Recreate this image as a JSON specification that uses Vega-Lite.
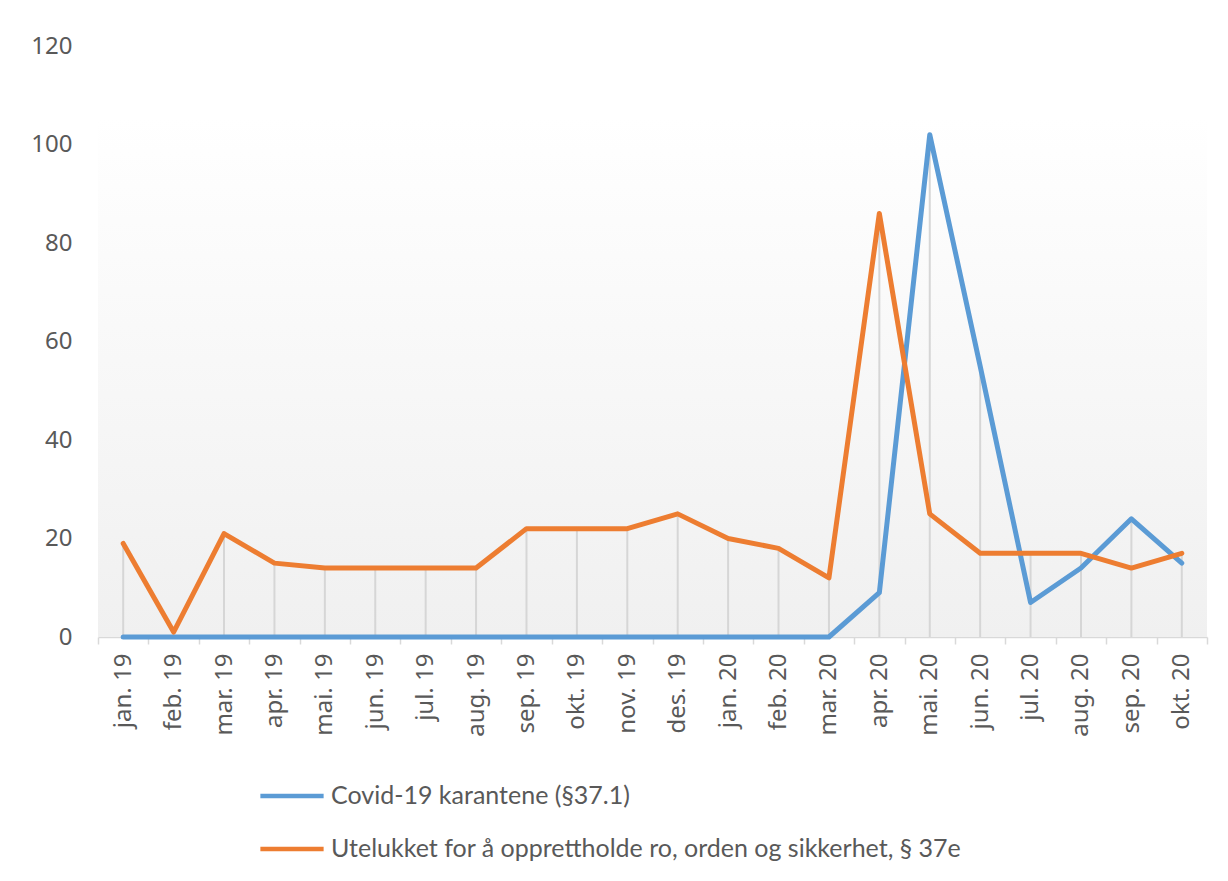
{
  "$schema": "https://vega.github.io/schema/vega-lite/v6.json",
  "autosize": {"type": "none"},
  "width": 1109,
  "height": 591,
  "padding": {"left": 98, "top": 46, "right": 21, "bottom": 244},
  "background": "white",
  "config": {
    "view": {"stroke": null},
    "font": "Noto Sans",
    "axis": {"labelColor": "#595959", "title": null}
  },
  "datasets": {
    "monthly": [
      {"month": "jan. 19", "series": "Covid-19 karantene (§37.1)", "value": 0},
      {"month": "feb. 19", "series": "Covid-19 karantene (§37.1)", "value": 0},
      {"month": "mar. 19", "series": "Covid-19 karantene (§37.1)", "value": 0},
      {"month": "apr. 19", "series": "Covid-19 karantene (§37.1)", "value": 0},
      {"month": "mai. 19", "series": "Covid-19 karantene (§37.1)", "value": 0},
      {"month": "jun. 19", "series": "Covid-19 karantene (§37.1)", "value": 0},
      {"month": "jul. 19", "series": "Covid-19 karantene (§37.1)", "value": 0},
      {"month": "aug. 19", "series": "Covid-19 karantene (§37.1)", "value": 0},
      {"month": "sep. 19", "series": "Covid-19 karantene (§37.1)", "value": 0},
      {"month": "okt. 19", "series": "Covid-19 karantene (§37.1)", "value": 0},
      {"month": "nov. 19", "series": "Covid-19 karantene (§37.1)", "value": 0},
      {"month": "des. 19", "series": "Covid-19 karantene (§37.1)", "value": 0},
      {"month": "jan. 20", "series": "Covid-19 karantene (§37.1)", "value": 0},
      {"month": "feb. 20", "series": "Covid-19 karantene (§37.1)", "value": 0},
      {"month": "mar. 20", "series": "Covid-19 karantene (§37.1)", "value": 0},
      {"month": "apr. 20", "series": "Covid-19 karantene (§37.1)", "value": 9},
      {"month": "mai. 20", "series": "Covid-19 karantene (§37.1)", "value": 102},
      {"month": "jun. 20", "series": "Covid-19 karantene (§37.1)", "value": 55},
      {"month": "jul. 20", "series": "Covid-19 karantene (§37.1)", "value": 7},
      {"month": "aug. 20", "series": "Covid-19 karantene (§37.1)", "value": 14},
      {"month": "sep. 20", "series": "Covid-19 karantene (§37.1)", "value": 24},
      {"month": "okt. 20", "series": "Covid-19 karantene (§37.1)", "value": 15},
      {"month": "jan. 19", "series": "Utelukket for å opprettholde ro, orden og sikkerhet, § 37e", "value": 19},
      {"month": "feb. 19", "series": "Utelukket for å opprettholde ro, orden og sikkerhet, § 37e", "value": 1},
      {"month": "mar. 19", "series": "Utelukket for å opprettholde ro, orden og sikkerhet, § 37e", "value": 21},
      {"month": "apr. 19", "series": "Utelukket for å opprettholde ro, orden og sikkerhet, § 37e", "value": 15},
      {"month": "mai. 19", "series": "Utelukket for å opprettholde ro, orden og sikkerhet, § 37e", "value": 14},
      {"month": "jun. 19", "series": "Utelukket for å opprettholde ro, orden og sikkerhet, § 37e", "value": 14},
      {"month": "jul. 19", "series": "Utelukket for å opprettholde ro, orden og sikkerhet, § 37e", "value": 14},
      {"month": "aug. 19", "series": "Utelukket for å opprettholde ro, orden og sikkerhet, § 37e", "value": 14},
      {"month": "sep. 19", "series": "Utelukket for å opprettholde ro, orden og sikkerhet, § 37e", "value": 22},
      {"month": "okt. 19", "series": "Utelukket for å opprettholde ro, orden og sikkerhet, § 37e", "value": 22},
      {"month": "nov. 19", "series": "Utelukket for å opprettholde ro, orden og sikkerhet, § 37e", "value": 22},
      {"month": "des. 19", "series": "Utelukket for å opprettholde ro, orden og sikkerhet, § 37e", "value": 25},
      {"month": "jan. 20", "series": "Utelukket for å opprettholde ro, orden og sikkerhet, § 37e", "value": 20},
      {"month": "feb. 20", "series": "Utelukket for å opprettholde ro, orden og sikkerhet, § 37e", "value": 18},
      {"month": "mar. 20", "series": "Utelukket for å opprettholde ro, orden og sikkerhet, § 37e", "value": 12},
      {"month": "apr. 20", "series": "Utelukket for å opprettholde ro, orden og sikkerhet, § 37e", "value": 86},
      {"month": "mai. 20", "series": "Utelukket for å opprettholde ro, orden og sikkerhet, § 37e", "value": 25},
      {"month": "jun. 20", "series": "Utelukket for å opprettholde ro, orden og sikkerhet, § 37e", "value": 17},
      {"month": "jul. 20", "series": "Utelukket for å opprettholde ro, orden og sikkerhet, § 37e", "value": 17},
      {"month": "aug. 20", "series": "Utelukket for å opprettholde ro, orden og sikkerhet, § 37e", "value": 17},
      {"month": "sep. 20", "series": "Utelukket for å opprettholde ro, orden og sikkerhet, § 37e", "value": 14},
      {"month": "okt. 20", "series": "Utelukket for å opprettholde ro, orden og sikkerhet, § 37e", "value": 17}
    ]
  },
  "layer": [
    {
      "data": {"values": [{"band": "plot"}]},
      "mark": {
        "type": "rect",
        "color": {
          "gradient": "linear",
          "x1": 0, "y1": 0, "x2": 0, "y2": 1,
          "stops": [
            {"offset": 0, "color": "#ffffff"},
            {"offset": 0.12, "color": "#ffffff"},
            {"offset": 1, "color": "#f0f0f0"}
          ]
        }
      },
      "encoding": {
        "y": {"datum": 120, "type": "quantitative", "scale": {"domain": [0, 120]}},
        "y2": {"datum": 0}
      }
    },
    {
      "data": {"name": "monthly"},
      "transform": [
        {"aggregate": [{"op": "max", "field": "value", "as": "maxv"}], "groupby": ["month"]}
      ],
      "mark": {"type": "rule", "color": "#d6d6d6", "strokeWidth": 2},
      "encoding": {
        "x": {
          "field": "month", "type": "nominal",
          "sort": ["jan. 19","feb. 19","mar. 19","apr. 19","mai. 19","jun. 19","jul. 19","aug. 19","sep. 19","okt. 19","nov. 19","des. 19","jan. 20","feb. 20","mar. 20","apr. 20","mai. 20","jun. 20","jul. 20","aug. 20","sep. 20","okt. 20"],
          "scale": {"type": "band", "paddingInner": 0, "paddingOuter": 0}
        },
        "y": {"field": "maxv", "type": "quantitative"},
        "y2": {"datum": 0}
      }
    },
    {
      "data": {"name": "monthly"},
      "mark": {"type": "line", "strokeWidth": 5, "strokeJoin": "round", "strokeCap": "round"},
      "encoding": {
        "x": {
          "field": "month", "type": "nominal",
          "sort": ["jan. 19","feb. 19","mar. 19","apr. 19","mai. 19","jun. 19","jul. 19","aug. 19","sep. 19","okt. 19","nov. 19","des. 19","jan. 20","feb. 20","mar. 20","apr. 20","mai. 20","jun. 20","jul. 20","aug. 20","sep. 20","okt. 20"],
          "scale": {"type": "band", "paddingInner": 0, "paddingOuter": 0},
          "axis": {
            "labelAngle": -90,
            "labelFontSize": 24,
            "labelPadding": 9,
            "domainColor": "#d9d9d9",
            "domainWidth": 1.5,
            "tickColor": "#d9d9d9",
            "tickWidth": 1.5,
            "tickSize": 7,
            "tickBand": "extent",
            "grid": false
          }
        },
        "y": {
          "field": "value", "type": "quantitative",
          "scale": {"domain": [0, 120]},
          "axis": {
            "values": [0, 20, 40, 60, 80, 100, 120],
            "domain": false,
            "ticks": false,
            "grid": false,
            "labelFontSize": 24,
            "labelPadding": 26
          }
        },
        "color": {
          "field": "series", "type": "nominal",
          "scale": {
            "domain": ["Covid-19 karantene (§37.1)", "Utelukket for å opprettholde ro, orden og sikkerhet, § 37e"],
            "range": ["#5b9bd5", "#ed7d31"]
          },
          "legend": {
            "title": null,
            "orient": "none",
            "legendX": 160,
            "legendY": 716,
            "direction": "vertical",
            "padding": 0,
            "symbolType": "stroke",
            "symbolSize": 4000,
            "symbolStrokeWidth": 4.5,
            "labelFont": "Lato",
            "labelFontSize": 25,
            "labelColor": "#595959",
            "labelLimit": 900,
            "labelOffset": 5,
            "rowPadding": 6
          }
        }
      }
    }
  ]
}
